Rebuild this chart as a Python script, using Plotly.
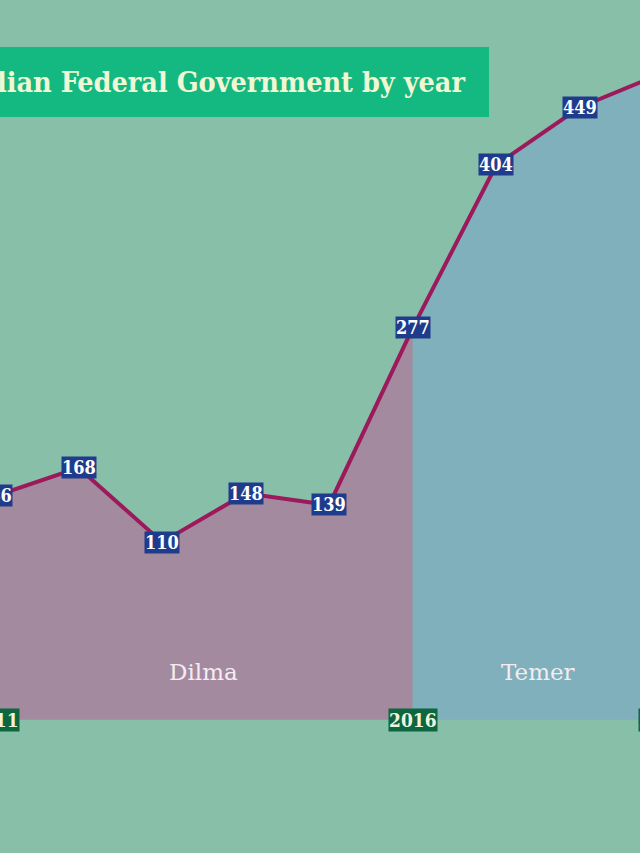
import plotly.graph_objects as go

# ---- data ----
years = [2011, 2012, 2013, 2014, 2015, 2016, 2017, 2018, 2019]
values = [146, 168, 110, 148, 139, 277, 404, 449, 476]

periods = ["Dilma", "Temer"]
period_start = [2011, 2016]
period_end = [2016, 2019]
period_colors = ["#a48a9f", "#7fb0bb"]

axis_years = [2011, 2016, 2019]
axis_labels = ["2011", "2016", "2019"]

title_text = "lian Federal Government by year"

# ---- styling ----
BG = "#88bfa8"
BASE = -28.5
Y_RANGE = [-132.3, 532.6]
X_RANGE = [2011.06, 2018.72]
SERIF = "DejaVu Serif Condensed, DejaVu Serif, serif"


def xfrac(x):
    # position of a year on the x axis as a fraction of the plot width
    return (x - X_RANGE[0]) / (X_RANGE[1] - X_RANGE[0])


fig = go.Figure()

for name, s, e, c in zip(periods, period_start, period_end, period_colors):
    xs = [y for y in years if s <= y <= e]
    ys = [v for y, v in zip(years, values) if s <= y <= e]
    fig.add_trace(go.Scatter(
        x=xs + [e, s], y=ys + [BASE, BASE],
        fill="toself", fillcolor=c, mode="lines",
        line=dict(width=0, color=c), hoverinfo="skip", showlegend=False,
    ))
    fig.add_annotation(
        x=(s + e) / 2, y=BASE, yshift=48, text=name, showarrow=False,
        font=dict(family="DejaVu Serif, serif", size=23, color="#f4ecf2"),
        yanchor="middle",
    )

fig.add_trace(go.Scatter(
    x=years, y=values, mode="lines",
    line=dict(color="#9c1a5c", width=4), showlegend=False, hoverinfo="skip",
))

for x, v in zip(years, values):
    fig.add_annotation(
        xref="paper", yref="y", x=xfrac(x), y=v, text=f"<b>{v}</b>",
        showarrow=False,
        font=dict(family=SERIF, size=18, color="white"),
        bgcolor="#1f3c8c", borderpad=0, xanchor="center", yanchor="middle",
    )

for x, t in zip(axis_years, axis_labels):
    fig.add_annotation(
        xref="paper", yref="y", x=xfrac(x), y=BASE, text=f"<b>{t}</b>",
        showarrow=False,
        font=dict(family=SERIF, size=19, color="#f2f3da"),
        bgcolor="#0c6640", borderpad=0, xanchor="center", yanchor="middle",
    )

# title box
fig.add_shape(type="rect", xref="paper", yref="paper",
              x0=-0.1, x1=489 / 640, y0=1 - 117 / 853, y1=1 - 47 / 853,
              fillcolor="#14b982", line=dict(width=0), layer="above")
fig.add_annotation(
    xref="paper", yref="paper", x=467 / 640, y=1 - 82 / 853,
    xanchor="right", yanchor="middle", showarrow=False,
    text=f"<b>{title_text}</b>",
    font=dict(family=SERIF, size=28.5, color="#f1f7d3"),
)

fig.update_layout(
    width=640, height=853,
    margin=dict(l=0, r=0, t=0, b=0),
    paper_bgcolor=BG, plot_bgcolor=BG,
    xaxis=dict(visible=False, range=X_RANGE, fixedrange=True),
    yaxis=dict(visible=False, range=Y_RANGE, fixedrange=True),
    showlegend=False,
)

fig.write_html("out.html", config={"displayModeBar": False},
               post_script="document.body.style.margin='0';")
